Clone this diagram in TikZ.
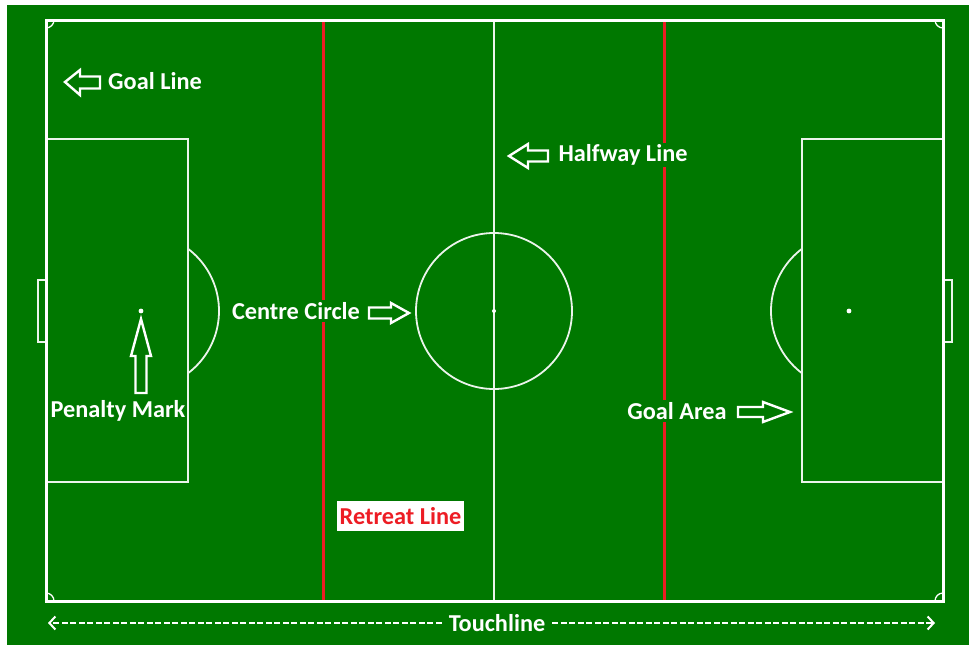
\documentclass[tikz,border=0pt]{standalone}
\usepackage{fontspec}
\setmainfont{Carlito}
\usetikzlibrary{arrows.meta}
\definecolor{pitch}{RGB}{0,120,0}
\definecolor{retreat}{RGB}{237,28,36}
\tikzset{
  outer/.style={draw=white, line width=3pt},
  inner/.style={draw=white!92!pitch, line width=1.8pt},
  redline/.style={draw=retreat, line width=3pt},
  cornerarc/.style={draw=white, line width=1.3pt},
  blockarrow/.style={draw=white, line width=2.4pt, line join=miter, fill=pitch},
  lbl/.style={text=white, font=\fontsize{24.3}{28}\selectfont\bfseries, fill=pitch, inner sep=2pt},
  touchdash/.style={white, line width=1.6pt, dash pattern=on 6pt off 2.5pt, -{Straight Barb[length=6pt, width=13pt, line width=2pt]}},
}
\begin{document}
\begin{tikzpicture}[x=1pt,y=-1pt]
\useasboundingbox (0,0) rectangle (969,645);
\fill[white] (0,0) rectangle (969,645);
\fill[pitch] (7,5) rectangle (969,645);
% red retreat lines
\draw[redline] (323,20) -- (323,601);
\draw[redline] (664,20) -- (664,601);
% halfway line and centre circle
\draw[inner] (494,20) -- (494,601);
\draw[inner] (494,311) circle (78);
\fill[white] (494,311) circle (2);
% penalty areas
\draw[inner] (46,139) rectangle (188,482);
\draw[inner] (943,139) rectangle (802,482);
\begin{scope}
\clip (188,200) rectangle (260,420);
\draw[inner] (141,311) circle (78);
\end{scope}
\begin{scope}
\clip (730,200) rectangle (802,420);
\draw[inner] (849,311) circle (78);
\end{scope}
\fill[white] (141,311) circle (2.4);
\fill[white] (849,311) circle (2.4);
% goals
\draw[inner, line width=1.5pt] (46,280) -- (38,280) -- (38,342) -- (46,342);
\draw[inner, line width=1.5pt] (943,280) -- (952,280) -- (952,342) -- (943,342);
% outline
\draw[outer] (46,20) rectangle (943,601);
% corner arcs
\draw[cornerarc] (54,20) arc[start angle=0, end angle=90, radius=8];
\draw[cornerarc] (935,20) arc[start angle=180, end angle=90, radius=8];
\draw[cornerarc] (54,601) arc[start angle=0, end angle=-90, radius=8];
\draw[cornerarc] (935,601) arc[start angle=180, end angle=270, radius=8];
% labels
\node[lbl] (goalline) at (155,81) {Goal Line};
\node[lbl] (halfway) at (623,155) {Halfway Line};
\node[lbl] (centre) at (296,311) {Centre Circle};
\node[lbl] (penalty) at (118,411) {Penalty Mark};
\node[lbl] (goalarea) at (677,411) {Goal Area};
\node[text=retreat, fill=white, font=\fontsize{24.3}{28}\selectfont\bfseries, minimum width=127pt, minimum height=30pt, inner sep=0pt] (retreatlbl) at (400.5,516) {Retreat Line};
\node[lbl, inner xsep=7pt] (touch) at (497,623) {Touchline};
% block arrows
\draw[blockarrow] (65,82) -- (80,70) -- (80,76.5) -- (100,76.5) -- (100,88.5) -- (80,88.5) -- (80,95) -- cycle;
\draw[blockarrow] (509,156) -- (528,144) -- (528,150.5) -- (548,150.5) -- (548,161.5) -- (528,161.5) -- (528,168) -- cycle;
\draw[blockarrow] (409,313) -- (391,303) -- (391,307.5) -- (369,307.5) -- (369,318.5) -- (391,318.5) -- (391,323) -- cycle;
\draw[blockarrow] (790,412) -- (763,402) -- (763,407) -- (738,407) -- (738,417) -- (763,417) -- (763,422) -- cycle;
\draw[blockarrow] (141,319) -- (131,356) -- (135.5,356) -- (135.5,393) -- (146.5,393) -- (146.5,356) -- (151,356) -- cycle;
% touchline
\coordinate (tl) at (48,623);
\coordinate (tr) at (935,623);
\draw[touchdash] (touch.west) -- (tl);
\draw[touchdash] (touch.east) -- (tr);
\end{tikzpicture}
\end{document}
